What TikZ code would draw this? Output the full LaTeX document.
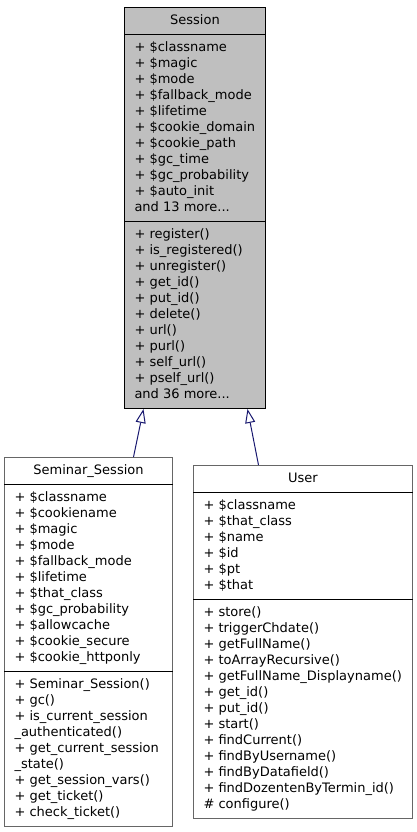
\documentclass[tikz,border=0pt]{standalone}
\usepackage{fontspec}
\setmainfont{DejaVu Sans}
\usepackage{xcolor}
\usetikzlibrary{arrows.meta,shapes.multipart}
\definecolor{inhblue}{RGB}{25,25,112}
\definecolor{hilite}{RGB}{191,191,191}
\tikzset{
  cls/.style   = {rectangle split, rectangle split parts=3, draw=black!60,
                  line width=1pt, fill=white, align=left, anchor=north west,
                  rectangle split part align={center,left,left},
                  inner xsep=10pt, inner ysep=5pt,
                  font=\fontsize{13}{16}\selectfont},
  mainc/.style = {cls, draw=black, fill=hilite},
  sep/.style   = {draw=black, line width=1pt},
  inh/.style   = {-{Triangle[length=14pt, width=10pt, fill=white]},
                  draw=inhblue, line width=1pt},
}

\begin{document}
\begin{tikzpicture}[x=1pt, y=-1pt]
  \useasboundingbox (0,0) rectangle (416,832);
  \node[mainc, minimum width=141pt] (session) at (124,7)
    {\strut Session
     \nodepart{two}\strut + \$classname\\+ \$magic\\+ \$mode\\+ \$fallback\_mode\\+ \$lifetime\\+ \$cookie\_domain\\+ \$cookie\_path\\+ \$gc\_time\\+ \$gc\_probability\\+ \$auto\_init\\and 13 more...\strut
     \nodepart{three}\strut + register()\\+ is\_registered()\\+ unregister()\\+ get\_id()\\+ put\_id()\\+ delete()\\+ url()\\+ purl()\\+ self\_url()\\+ pself\_url()\\and 36 more...\strut};
  \node[cls, minimum width=168pt] (seminar) at (4,457)
    {\strut Seminar\_Session
     \nodepart{two}\strut + \$classname\\+ \$cookiename\\+ \$magic\\+ \$mode\\+ \$fallback\_mode\\+ \$lifetime\\+ \$that\_class\\+ \$gc\_probability\\+ \$allowcache\\+ \$cookie\_secure\\+ \$cookie\_httponly\strut
     \nodepart{three}\strut + Seminar\_Session()\\+ gc()\\+ is\_current\_session\\\_authenticated()\\+ get\_current\_session\\\_state()\\+ get\_session\_vars()\\+ get\_ticket()\\+ check\_ticket()\strut};
  \node[cls, minimum width=219pt] (user) at (193,465)
    {\strut User
     \nodepart{two}\strut + \$classname\\+ \$that\_class\\+ \$name\\+ \$id\\+ \$pt\\+ \$that\strut
     \nodepart{three}\strut + store()\\+ triggerChdate()\\+ getFullName()\\+ toArrayRecursive()\\+ getFullName\_Displayname()\\+ get\_id()\\+ put\_id()\\+ start()\\+ findCurrent()\\+ findByUsername()\\+ findByDatafield()\\+ findDozentenByTermin\_id()\\\# configure()\strut};
  % splits in black
  \foreach \n in {seminar,user} {
    \draw[sep] (\n.text split west) -- (\n.text split east);
    \draw[sep] (\n.two split west) -- (\n.two split east);
  }
  \draw[inh] ([xshift=45pt]seminar.north) -- ([xshift=-51.5pt]session.south);
  \draw[inh] ([xshift=-44.5pt]user.north) -- ([xshift=52.5pt]session.south);
\end{tikzpicture}
\end{document}
